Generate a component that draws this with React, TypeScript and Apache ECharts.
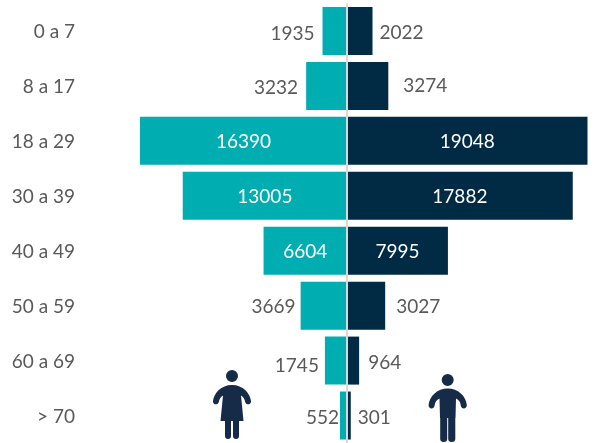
import React, { useEffect, useRef } from "react";
import * as echarts from "echarts";

const categories = ["0 a 7", "8 a 17", "18 a 29", "30 a 39", "40 a 49", "50 a 59", "60 a 69", "> 70"];
const women = [1935, 3232, 16390, 13005, 6604, 3669, 1745, 552];
const men = [2022, 3274, 19048, 17882, 7995, 3027, 964, 301];

// label layout per row (null = centred inside the bar)
const womenGap = [8, 8, null, null, null, 5, 6, 1];
const menGap = [7, 15, null, null, null, 11, 9, 7];
const womenDy = [2, 1, 0, 0, 0, 0, 4, 1];
const menDy = [1, -1, 0, 0, 0, 0, 1, 1];

const TEAL = "#00ADB0";
const NAVY = "#012A45";
const ICON = "#152B47";
const TEXT = "#595959";
const FONT = "Lato";

const womanPath =
  "M226,376a6,6 0 1,0 12,0a6,6 0 1,0 -12,0Z" +
  "M232,385C243,385 250,393 251,401C251.4,405 246,405.500 245.200,402C244.600,399 243,396.500 241,395.500L243.500,421L220.500,421L223,395.500C221,396.500 219.400,399 218.800,402C218,405.500 212.600,405 213,401C214,393 221,385 232,385Z" +
  "M225,421L231,421L231,436Q231,439 228,439Q225,439 225,436Z" +
  "M233,421L239,421L239,436Q239,439 236,439Q233,439 233,436Z";

const manPath =
  "M441.700,380a6,6 0 1,0 12,0a6,6 0 1,0 -12,0Z" +
  "M447.700,388.500C458,388.500 466,396 466.800,405C467,409.500 461.200,409.500 460.800,405.500C460.400,402 459,400 456,398.500L455.500,418L440,418L439.500,398.500C436.500,400 435,402 434.600,405.500C434.200,409.500 428.400,409.500 428.600,405C429.400,396 437.500,388.500 447.700,388.500Z" +
  "M440.200,418L447.200,418L447.200,439Q447.200,442 443.700,442Q440.200,442 440.200,439Z" +
  "M448.200,418L455.300,418L455.300,439Q455.300,442 451.700,442Q448.200,442 448.200,439Z";

echarts.graphic.registerShape("womanIcon", echarts.graphic.extendPath(womanPath, {}));
echarts.graphic.registerShape("manIcon", echarts.graphic.extendPath(manPath, {}));

function rowLabel(gap: number | null, dy: number, side: "left" | "right") {
  if (gap === null) {
    return { show: true, position: "inside", color: "#FFFFFF", offset: [0, dy] };
  }
  return { show: true, position: side, distance: gap, color: TEXT, offset: [0, dy] };
}

export default function App() {
  const ref = useRef<HTMLDivElement>(null);
  useEffect(() => {
    if (!ref.current) return;
    const chart = echarts.init(ref.current, undefined, { renderer: "svg" });
    chart.setOption({
      animation: false,
      textStyle: { fontFamily: FONT },
      grid: { left: 94.4, top: 3.5, width: 498.8, height: 440 },
      xAxis: { type: "value", min: -20000, max: 19500, show: false },
      yAxis: {
        type: "category",
        data: categories,
        inverse: true,
        axisLine: { show: false, onZero: false },
        axisTick: { show: false },
        axisLabel: { color: TEXT, fontSize: 19, fontFamily: FONT, margin: 19.4, padding: [0, 0, 4, 0] },
      },
      series: [
        {
          type: "bar",
          name: "Mujeres",
          stack: "p",
          barWidth: 48,
          itemStyle: { color: TEAL },
          label: { fontSize: 19, fontFamily: FONT, formatter: (p: any) => String(Math.abs(p.value)) },
          data: women.map((v, i) => ({
            value: -v,
            label: rowLabel(womenGap[i], womenDy[i], "left"),
          })),
          markLine: {
            silent: true,
            symbol: "none",
            label: { show: false },
            lineStyle: { color: "#D9D9D9", width: 2, type: "solid" },
            data: [{ xAxis: 0 }],
          },
          z: 2,
        },
        {
          type: "bar",
          name: "Hombres",
          stack: "p",
          barWidth: 48,
          itemStyle: { color: NAVY },
          label: { fontSize: 19, fontFamily: FONT },
          data: men.map((v, i) => ({
            value: v,
            label: rowLabel(menGap[i], menDy[i], "right"),
          })),
          z: 2,
        },
      ],
      graphic: [
        { type: "womanIcon", x: 0, y: 0, style: { fill: ICON } },
        { type: "manIcon", x: 0, y: 0, style: { fill: ICON } },
      ],
    });
    return () => chart.dispose();
  }, []);
  return <div ref={ref} style={{ position: "fixed", left: 0, top: 0, width: 596, height: 443 }} />;
}
